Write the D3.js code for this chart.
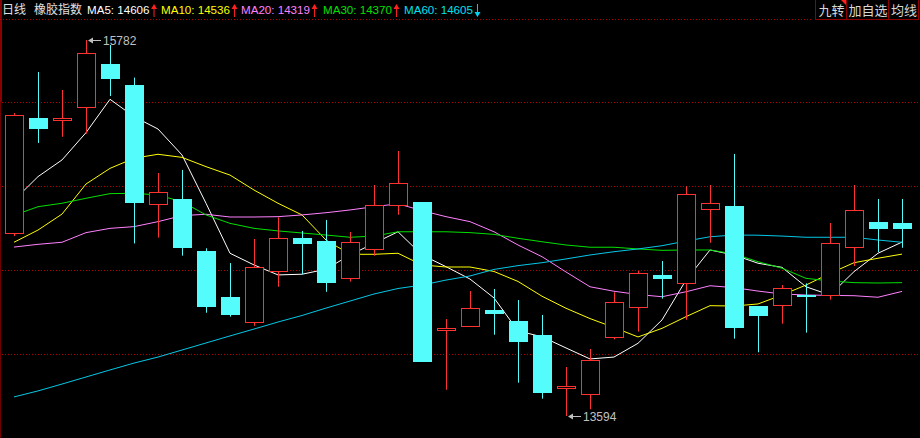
<!DOCTYPE html>
<html><head><meta charset="utf-8">
<script src="https://cdn.jsdelivr.net/npm/d3@7/dist/d3.min.js"></script>
<style>
html,body{margin:0;padding:0;background:#000;overflow:hidden;}
svg{display:block;}
</style></head>
<body>
<svg id="chart" width="920" height="438"></svg>
<script>
// ---- data (daily candles, 橡胶指数) ----
const openP  = [14659,15328,15315,15390,15642,15520,14826,14857,14554,14288,14143,14434,14630,14612,14395,14564,14820,14839,14090,14119,14211,14147,14065,13755,13718,14050,14227,14415,14366,14797,14816,14234,14238,14298,14298,14576,14723,14717];
const highP  = [15357,15596,15491,15782,15753,15563,15008,15026,14570,14484,14624,14750,14671,14735,14665,14938,15136,14839,14158,14321,14333,14269,14182,13879,13984,14314,14438,14496,14931,14938,15119,14234,14356,14366,14717,14938,14857,14857];
const lowP   = [14641,15183,15219,15237,15456,14598,14632,14527,14195,14172,14119,14346,14419,14317,14376,14527,14765,13910,13747,14114,14067,13788,13695,13594,13633,14040,14085,14277,14154,14602,14044,13965,14131,14079,14271,14467,14548,14573];
const closeP = [15346,15264,15326,15705,15557,14835,14896,14573,14230,14183,14461,14628,14597,14370,14605,14820,14948,13910,14104,14221,14189,14026,13730,13769,13918,14256,14424,14393,14884,14832,14108,14178,14337,14288,14599,14791,14684,14682];

const ma5  = [14849,14987,15084,15243,15437,15336,15264,15113,14832,14541,14473,14415,14419,14448,14531,14599,14666,14531,14463,14391,14281,14089,14055,13990,13926,13937,14017,14153,14385,14560,14531,14483,14459,14346,14298,14434,14541,14606];
const ma10 = [14605,14676,14769,14944,15035,15094,15117,15099,15045,14996,14909,14832,14764,14618,14535,14535,14541,14473,14461,14461,14435,14377,14291,14221,14161,14109,14054,14104,14172,14236,14234,14246,14298,14356,14424,14486,14512,14536];
const ma20 = [14577,14593,14605,14661,14686,14696,14725,14760,14768,14752,14752,14754,14764,14777,14793,14812,14829,14789,14754,14725,14666,14589,14521,14432,14346,14320,14301,14288,14317,14352,14341,14321,14304,14298,14296,14294,14285,14319];
const ma30 = [14762,14812,14832,14861,14888,14890,14880,14841,14764,14715,14686,14671,14659,14647,14634,14641,14666,14666,14666,14661,14651,14628,14608,14589,14576,14576,14566,14558,14560,14560,14537,14492,14454,14395,14380,14370,14368,14370];
const ma60 = [13705,13740,13780,13821,13862,13902,13937,13978,14019,14060,14100,14141,14179,14222,14263,14304,14336,14356,14385,14409,14447,14469,14486,14508,14531,14550,14566,14585,14612,14637,14647,14646,14641,14634,14634,14634,14618,14605];

const maNames  = ["MA5","MA10","MA20","MA30","MA60"];
const maSeries = [ma5, ma10, ma20, ma30, ma60];
const maColors = ["#ffffff","#ffff00","#ff80ff","#00e000","#00c8e8"];
const maTextColors = ["#ffffff","#ffff00","#ff80ff","#00e000","#00e0f0"];
const titleLabels = ["日线","橡胶指数"];
const buttonLabels = ["九转","加自选","均线"];

// ---- drawing ----
const W = 920, H = 438;
const svg = d3.select("#chart");
svg.append("rect").attr("width",W).attr("height",H).attr("fill","#000");

const n = closeP.length;
const idx = d3.range(n);
const x = d3.scalePoint().domain(idx).range([14, 902]);
const yMin = d3.min(lowP), yMax = d3.max(highP);
const y = d3.scaleLinear().domain([yMin, yMax]).range([416, 40]);

const gridColor = "#b00000";
// left border
svg.append("line").attr("x1",0.5).attr("x2",0.5).attr("y1",0).attr("y2",H).attr("stroke","#700000");
svg.append("rect").attr("x",0).attr("y",0).attr("width",2).attr("height",102).attr("fill","#8a0000");

// header separator
svg.append("line").attr("x1",0).attr("x2",813).attr("y1",19.5).attr("y2",19.5)
  .attr("stroke",gridColor).attr("stroke-dasharray","1,2");
// horizontal grid (plot 18..438 split into 5)
const gridY = d3.range(1,5).map(k => 18 + k*84);
svg.append("g").selectAll("line").data(gridY).join("line")
  .attr("x1",2).attr("x2",W).attr("y1",d=>d+0.5).attr("y2",d=>d+0.5)
  .attr("stroke",gridColor).attr("stroke-dasharray","1,2");

// MA lines
maSeries.forEach((s,k)=>{
  const line = d3.line().x((d,i)=>x(i)).y(d=>y(d));
  svg.append("path").datum(s).attr("d",line).attr("fill","none")
    .attr("stroke",maColors[k]).attr("stroke-width",1);
});

// candles
const UP = "#ff3232", DOWN = "#54fcfc";
const bw = 18;
const g = svg.append("g");
idx.forEach(i=>{
  const o=openP[i], c=closeP[i], h=highP[i], l=lowP[i];
  const cx = Math.round(x(i)) + 0.5;
  const up = c >= o;
  const top = y(Math.max(o,c)), bot = y(Math.min(o,c));
  if (up) {
    g.append("line").attr("x1",cx).attr("x2",cx).attr("y1",y(h)).attr("y2",top).attr("stroke",UP);
    g.append("line").attr("x1",cx).attr("x2",cx).attr("y1",bot).attr("y2",y(l)).attr("stroke",UP);
    g.append("rect").attr("x",cx-bw/2).attr("y",Math.round(top)+0.5)
      .attr("width",bw).attr("height",Math.max(1,Math.round(bot-top)))
      .attr("fill","#000").attr("stroke",UP).attr("stroke-width",1);
  } else {
    g.append("line").attr("x1",cx).attr("x2",cx).attr("y1",y(h)).attr("y2",y(l)).attr("stroke",DOWN);
    g.append("rect").attr("x",cx-bw/2-0.5).attr("y",Math.round(top))
      .attr("width",bw+1).attr("height",Math.max(2,Math.round(bot-top)))
      .attr("fill",DOWN);
  }
});

// high / low markers
const labelColor = "#c0c0c0";
function marker(i, val){
  const xx = Math.round(x(i)) + 2, yy = Math.round(y(val)) + 0.5;
  svg.append("path").attr("d",`M${xx},${yy} L${xx+5},${yy-3} L${xx+5},${yy+3} Z`).attr("fill",labelColor);
  svg.append("line").attr("x1",xx+4).attr("x2",xx+13).attr("y1",yy).attr("y2",yy).attr("stroke",labelColor);
  svg.append("text").attr("x",xx+15).attr("y",yy+4.5).attr("fill",labelColor)
    .attr("font-family","Liberation Sans, Arial, sans-serif").attr("font-size",12).text(val);
}
const hiI = d3.maxIndex(highP), loI = d3.minIndex(lowP);
marker(hiI, highP[hiI]);
marker(loI, lowP[loI]);

// header
const hdr = svg.append("g").attr("font-family","Liberation Sans, Arial, sans-serif").attr("font-size",11.6);
hdr.append("text").attr("x",2).attr("y",14).attr("fill","#e0e0e0")
  .attr("font-family","'Noto Sans CJK SC', sans-serif").attr("font-size",12).text(titleLabels[0]);
hdr.append("text").attr("x",34).attr("y",14).attr("fill","#e0e0e0")
  .attr("font-family","'Noto Sans CJK SC', sans-serif").attr("font-size",12).text(titleLabels[1]);
const maX = [87,161,241,323,404];
maNames.forEach((nm,k)=>{
  const s = maSeries[k];
  const last = s[s.length-1], prev = s[s.length-2];
  const upA = last >= prev;
  const t = hdr.append("text").attr("x",maX[k]).attr("y",14).attr("fill",maTextColors[k]).text(`${nm}: ${last}`);
  const ax = maX[k] + t.node().getComputedTextLength() + 4;
  const col = upA ? "#ff2020" : "#00d0f0";
  const ya = 4, yb = 17;
  if (upA) {
    hdr.append("line").attr("x1",ax+0.5).attr("x2",ax+0.5).attr("y1",ya+2).attr("y2",yb).attr("stroke",col);
    hdr.append("path").attr("d",`M${ax-2.5},${ya+5} L${ax+0.5},${ya} L${ax+3.5},${ya+5} Z`).attr("fill",col);
  } else {
    hdr.append("line").attr("x1",ax+0.5).attr("x2",ax+0.5).attr("y1",ya).attr("y2",yb-2).attr("stroke",col);
    hdr.append("path").attr("d",`M${ax-2.5},${yb-5} L${ax+0.5},${yb} L${ax+3.5},${yb-5} Z`).attr("fill",col);
  }
});

// buttons
const bx = [815,846,888,918];
const bg = svg.append("g");
buttonLabels.forEach((b,k)=>{
  bg.append("rect").attr("x",bx[k]+0.5).attr("y",-1).attr("width",bx[k+1]-bx[k]).attr("height",20.5)
    .attr("fill","#000").attr("stroke","#900000");
  bg.append("text").attr("x",(bx[k]+bx[k+1])/2+1).attr("y",15).attr("text-anchor","middle")
    .attr("fill","#d8d8d8").attr("font-family","'Noto Sans CJK SC', sans-serif").attr("font-size",13).text(b);
});
bg.append("path").attr("d",`M${bx[1]-5},0 L${bx[1]},0 L${bx[1]},5 Z`).attr("fill","#ff2020");
</script>
</body></html>
